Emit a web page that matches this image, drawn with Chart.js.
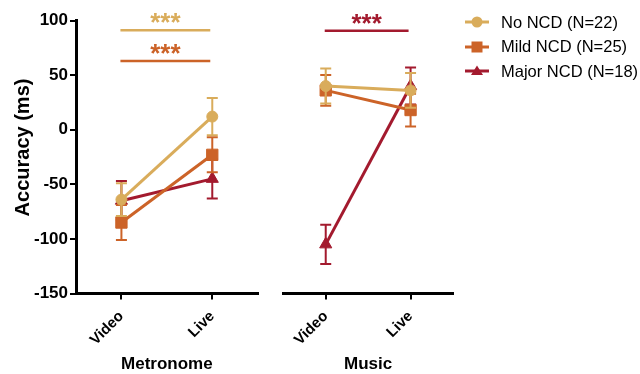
<!DOCTYPE html>
<html lang="en">
<head>
  <meta charset="UTF-8" />
  <title>Accuracy by NCD group</title>
  <script src="https://cdn.jsdelivr.net/npm/chart.js"></script>
  <style>
    body {
      margin: 0;
      background: #fff;
      font-family: 'Liberation Sans', Arial, sans-serif;
    }
    .wrap {
      position: relative;
      width: 640px;
      height: 374px;
    }
    #metronome { position: absolute; left: 0; top: 0; }
    #music { position: absolute; left: 262px; top: 0; }
    .legend {
      position: absolute;
      left: 465px;
      top: 10px;
    }
    .legend-row {
      display: flex;
      align-items: center;
      height: 24.5px;
      font-size: 16.5px;
      color: #000;
    }
    .legend-row canvas { margin-right: 12px; }
  </style>
</head>
<body>
  <div class="wrap">
    <canvas id="metronome" width="270" height="374"></canvas>
    <canvas id="music" width="200" height="374"></canvas>
    <div class="legend" id="legend"></div>
  </div>

  <script>
    // x categories
    const groups = ['Video', 'Live'];

    // Metronome condition, mean and SEM per group
    const noNcdMetronome = [-64, 12];
    const noNcdMetronomeSem = [15, 17];
    const mildNcdMetronome = [-85, -23];
    const mildNcdMetronomeSem = [16, 16];
    const majorNcdMetronome = [-65, -45];
    const majorNcdMetronomeSem = [18, 18];

    // Music condition
    const noNcdMusic = [40, 36];
    const noNcdMusicSem = [16, 16];
    const mildNcdMusic = [36, 18];
    const mildNcdMusicSem = [14, 15];
    const majorNcdMusic = [-105, 40];
    const majorNcdMusicSem = [18, 17];

    // series names / colours / markers
    const seriesNames = ['No NCD (N=22)', 'Mild NCD (N=25)', 'Major NCD (N=18)'];
    const seriesColors = ['#d9ac5b', '#cc6328', '#a31a2e'];
    const seriesMarkers = ['circle', 'rect', 'triangle'];
    const markerRadius = [5.5, 8, 7];

    // y axis range
    const yMin = -150, yMax = 100, yStep = 50;

    // significance bars (y value, colour index)
    const metronomeSig = [[91, 0], [63, 1]];
    const musicSig = [[90.5, 2]];

    Chart.defaults.font.family = "'Liberation Sans', Arial, sans-serif";
    Chart.defaults.color = '#000';

    // draws SEM whiskers under each line
    const errorBars = {
      id: 'errorBars',
      beforeDatasetDraw(chart, args) {
        const ds = chart.data.datasets[args.index];
        const y = chart.scales.y;
        const ctx = chart.ctx;
        ctx.save();
        ctx.strokeStyle = ds.borderColor;
        ctx.lineWidth = 2;
        args.meta.data.forEach((pt, i) => {
          const top = y.getPixelForValue(ds.data[i] + ds.errors[i]);
          const bot = y.getPixelForValue(ds.data[i] - ds.errors[i]);
          ctx.beginPath();
          ctx.moveTo(pt.x, top); ctx.lineTo(pt.x, bot);
          ctx.moveTo(pt.x - 5.5, top); ctx.lineTo(pt.x + 5.5, top);
          ctx.moveTo(pt.x - 5.5, bot); ctx.lineTo(pt.x + 5.5, bot);
          ctx.stroke();
        });
        ctx.restore();
      }
    };

    // *** brackets between Video and Live, plus the y title (sits a bit above centre)
    const sigBars = {
      id: 'sigBars',
      afterDraw(chart, args, opts) {
        const x = chart.scales.x, y = chart.scales.y;
        const ctx = chart.ctx;
        const x0 = x.getPixelForValue(0) - 1;
        const x1 = x.getPixelForValue(1) - 2;
        ctx.save();
        (opts.bars || []).forEach(([val, c]) => {
          const py = y.getPixelForValue(val);
          ctx.strokeStyle = seriesColors[c];
          ctx.fillStyle = seriesColors[c];
          ctx.lineWidth = 2.5;
          ctx.beginPath();
          ctx.moveTo(x0, py); ctx.lineTo(x1, py);
          ctx.stroke();
          ctx.font = "bold 26px 'Liberation Sans', Arial, sans-serif";
          ctx.textAlign = 'center';
          ctx.textBaseline = 'alphabetic';
          ctx.fillText('***', (x0 + x1) / 2, py + 1);
        });
        if (opts.yTitle) {
          const area = chart.chartArea;
          ctx.translate(23, (area.top + area.bottom) / 2 - 9.5);
          ctx.rotate(-Math.PI / 2);
          ctx.fillStyle = '#000';
          ctx.font = "bold 20px 'Liberation Sans', Arial, sans-serif";
          ctx.textAlign = 'center';
          ctx.textBaseline = 'middle';
          ctx.fillText(opts.yTitle, 0, 0);
        }
        ctx.restore();
      }
    };

    function makeDatasets(means, sems) {
      return means.map((m, i) => ({
        label: seriesNames[i],
        data: m,
        errors: sems[i],
        borderColor: seriesColors[i],
        backgroundColor: seriesColors[i],
        borderWidth: 3,
        pointStyle: seriesMarkers[i],
        pointRadius: markerRadius[i],
        pointBorderWidth: 1,
        pointBackgroundColor: seriesColors[i],
        tension: 0
      }));
    }

    function makeChart(id, title, means, sems, sig, showY, pad) {
      return new Chart(document.getElementById(id), {
        type: 'line',
        data: { labels: groups, datasets: makeDatasets(means, sems) },
        plugins: [errorBars, sigBars],
        options: {
          responsive: false,
          animation: false,
          layout: { padding: pad },
          plugins: {
            legend: { display: false },
            tooltip: { enabled: false },
            sigBars: { bars: sig, yTitle: showY ? 'Accuracy (ms)' : null }
          },
          scales: {
            x: {
              offset: true,
              afterFit: s => { s.height = 80.5; s.paddingLeft = 0; s.paddingRight = 0; },
              border: { display: true, color: '#000', width: 3 },
              grid: { display: true, offset: false, drawOnChartArea: false, drawTicks: true, tickLength: 6, color: '#000', lineWidth: 2 },
              ticks: { minRotation: 45, maxRotation: 45, padding: 8, font: { size: 15, weight: 'bold' }, color: '#000' },
              title: { display: true, text: title, font: { size: 17, weight: 'bold' }, color: '#000', padding: { top: 0, bottom: -1 } }
            },
            y: {
              display: showY,
              min: yMin,
              max: yMax,
              afterFit: s => { s.width = showY ? 76 : 0; },
              border: { display: true, color: '#000', width: 3 },
              grid: { display: true, drawOnChartArea: false, drawTicks: true, tickLength: 6, color: '#000', lineWidth: 2 },
              ticks: { stepSize: yStep, padding: 2, font: { size: 17, weight: 'bold' }, color: '#000' }
            }
          }
        }
      });
    }

    makeChart('metronome', 'Metronome',
      [noNcdMetronome, mildNcdMetronome, majorNcdMetronome],
      [noNcdMetronomeSem, mildNcdMetronomeSem, majorNcdMetronomeSem],
      metronomeSig, true, { top: 20.5, right: 12.3, left: 0, bottom: 0 });

    makeChart('music', 'Music',
      [noNcdMusic, mildNcdMusic, majorNcdMusic],
      [noNcdMusicSem, mildNcdMusicSem, majorNcdMusicSem],
      musicSig, false, { top: 20.5, right: 3, left: 21.3, bottom: 0 });

    // legend: line with marker, then label
    const legend = document.getElementById('legend');
    seriesNames.forEach((name, i) => {
      const row = document.createElement('div');
      row.className = 'legend-row';
      const sw = document.createElement('canvas');
      sw.width = 24; sw.height = 16;
      const c = sw.getContext('2d');
      c.strokeStyle = c.fillStyle = seriesColors[i];
      c.lineWidth = 3;
      c.beginPath(); c.moveTo(0, 8); c.lineTo(24, 8); c.stroke();
      c.beginPath();
      if (seriesMarkers[i] === 'circle') c.arc(12, 8, 5.5, 0, Math.PI * 2);
      else if (seriesMarkers[i] === 'rect') c.rect(6.5, 2.5, 11, 11);
      else { c.moveTo(12, 2.5); c.lineTo(18, 12); c.lineTo(6, 12); c.closePath(); }
      c.fill();
      const label = document.createElement('span');
      label.textContent = name;
      row.appendChild(sw);
      row.appendChild(label);
      legend.appendChild(row);
    });
  </script>
</body>
</html>
